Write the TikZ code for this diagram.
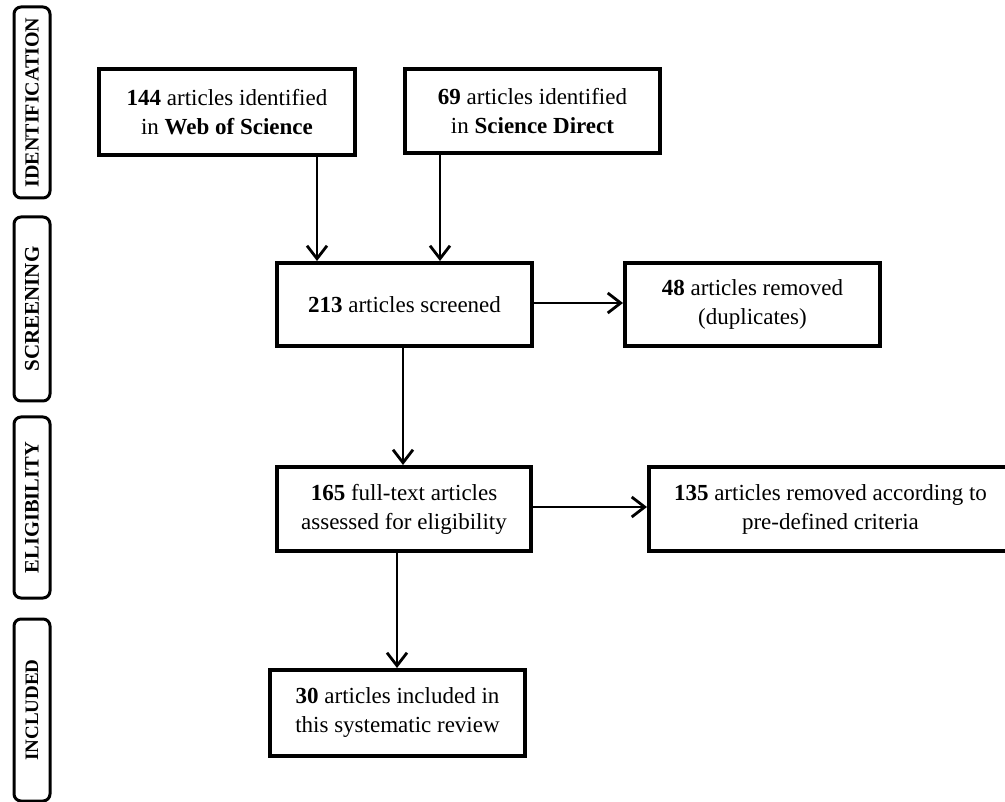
\documentclass[tikz,border=0pt]{standalone}
\usepackage{fontspec}
\setmainfont{Liberation Serif}
\usetikzlibrary{arrows.meta}
\begin{document}
\begin{tikzpicture}[x=1pt,y=-1pt,
  flowbox/.style={draw=black, line width=4pt, rectangle, align=center, inner sep=0pt,
    font=\fontsize{23}{29}\selectfont},
  stagebox/.style={draw=black, line width=3pt, rounded corners=7pt, inner sep=0pt},
  arr/.style={draw=black, line width=2.8pt, -{Straight Barb[length=13pt,width=20pt,line width=2.8pt]}}
]
\clip (0,0) rectangle (1005,802);
\fill[white] (0,0) rectangle (1005,802);

% stage labels
\node[stagebox, minimum width=36pt, minimum height=191pt] (lid) at (32,102.5) {};
\node[rotate=90, font=\fontsize{20}{22}\selectfont\bfseries] (tid) at (lid.center) {IDENTIFICATION};
\node[stagebox, minimum width=36pt, minimum height=184pt] (lsc) at (32,309) {};
\node[rotate=90, font=\fontsize{21}{22}\selectfont\bfseries] (tsc) at (lsc.center) {SCREENING};
\node[stagebox, minimum width=36pt, minimum height=181pt] (lel) at (32,507.5) {};
\node[rotate=90, font=\fontsize{20.5}{22}\selectfont\bfseries] (tel) at (lel.center) {ELIGIBILITY};
\node[stagebox, minimum width=36pt, minimum height=182pt] (lin) at (32,710) {};
\node[rotate=90, font=\fontsize{19}{22}\selectfont\bfseries] (tin) at (lin.center) {INCLUDED};

% flow boxes
\node[flowbox, minimum width=256pt, minimum height=86pt] (wos) at (227,112)
  {\textbf{144} articles identified\\ in \textbf{Web of Science}};
\node[flowbox, minimum width=255pt, minimum height=84pt] (sd) at (532.5,111.5)
  {\textbf{69} articles identified\\ in \textbf{Science Direct}};
\node[flowbox, minimum width=255pt, minimum height=83pt] (scr) at (404.5,304.5)
  {\textbf{213} articles screened};
\node[flowbox, minimum width=255pt, minimum height=83pt] (dup) at (752.5,304.5)
  {\textbf{48} articles removed\\(duplicates)};
\node[flowbox, minimum width=254pt, minimum height=84pt] (full) at (404,509)
  {\textbf{165} full-text articles\\assessed for eligibility};
\node[flowbox, minimum width=363pt, minimum height=84pt] (crit) at (830.5,509)
  {\textbf{135} articles removed according to\\pre-defined criteria};
\node[flowbox, minimum width=255pt, minimum height=86pt] (inc) at (397.5,713)
  {\textbf{30} articles included in\\this systematic review};

% connectors
\draw[arr] (wos.south -| 317,0) -- (scr.north -| 317,0);
\draw[arr] (sd.south -| 440,0) -- (scr.north -| 440,0);
\draw[arr] (scr.east |- 0,303) -- (dup.west |- 0,303);
\draw[arr] (scr.south -| 403,0) -- (full.north -| 403,0);
\draw[arr] (full.east |- 0,507) -- (crit.west |- 0,507);
\draw[arr] (full.south -| 397,0) -- (inc.north -| 397,0);
\end{tikzpicture}
\end{document}
